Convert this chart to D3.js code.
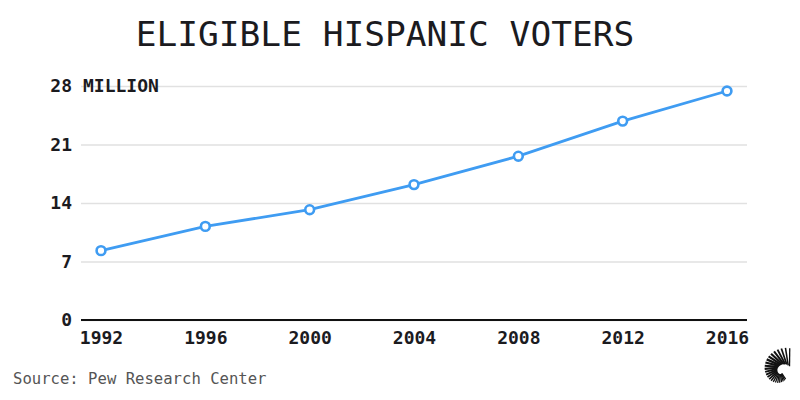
<!DOCTYPE html>
<html>
<head>
<meta charset="utf-8">
<script src="https://cdn.jsdelivr.net/npm/d3@7"></script>
<style>
  html, body { margin: 0; padding: 0; background: #fff; }
  svg { display: block; }
</style>
</head>
<body>
<div class="chart"></div>
<script>
const years = [1992, 1996, 2000, 2004, 2008, 2012, 2016];
const voters = [8.3, 11.2, 13.2, 16.2, 19.6, 23.8, 27.4];
const yTicks = [0, 7, 14, 21, 28];

const width = 800;
const height = 400;
const marginLeft = 81;
const marginRight = 53;
const marginTop = 86;
const marginBottom = 80;
const pad = 20;
const font = "'DejaVu Sans Mono', monospace";
const blue = "#3f9cf2";
const ink = "#1b1b1f";

const svg = d3.select(".chart").append("svg")
  .attr("width", width)
  .attr("height", height)
  .attr("viewBox", [0, 0, width, height]);

const x = d3.scaleLinear()
  .domain(d3.extent(years))
  .range([marginLeft + pad, width - marginRight - pad]);

const y = d3.scaleLinear()
  .domain([0, 28])
  .range([height - marginBottom, marginTop]);

// Title
svg.append("text")
  .attr("x", 385)
  .attr("y", 46)
  .attr("text-anchor", "middle")
  .attr("font-family", font)
  .attr("font-size", 34.5)
  .attr("fill", ink)
  .text("ELIGIBLE HISPANIC VOTERS");

// Gridlines + y labels
const yAxis = d3.axisLeft(y)
  .tickValues(yTicks)
  .tickSize(-(width - marginLeft - marginRight))
  .tickPadding(9)
  .tickFormat(d => d);

const gy = svg.append("g")
  .attr("transform", `translate(${marginLeft},0)`)
  .call(yAxis);
gy.select(".domain").remove();
gy.selectAll(".tick line")
  .attr("stroke", "#e1e1e1")
  .attr("stroke-width", 1.6);
gy.selectAll(".tick text")
  .attr("font-family", font)
  .attr("font-size", 18)
  .attr("font-weight", "bold")
  .attr("fill", ink);

// Unit label next to top tick
svg.append("text")
  .attr("x", marginLeft + 2)
  .attr("y", y(28))
  .attr("dy", "0.32em")
  .attr("font-family", font)
  .attr("font-size", 18)
  .attr("font-weight", "bold")
  .attr("fill", ink)
  .text("MILLION");

// X axis
const xAxis = d3.axisBottom(x)
  .tickValues(years)
  .tickSize(0)
  .tickPadding(11)
  .tickFormat(d3.format("d"));

const gx = svg.append("g")
  .attr("transform", `translate(0,${height - marginBottom})`)
  .call(xAxis);
gx.select(".domain")
  .attr("d", `M${marginLeft},0H${width - marginRight}`)
  .attr("stroke", "#111")
  .attr("stroke-width", 2);
gx.selectAll(".tick text")
  .attr("font-family", font)
  .attr("font-size", 18)
  .attr("font-weight", "bold")
  .attr("fill", ink);

// Line
const points = years.map((yr, i) => ({ year: yr, value: voters[i] }));

const line = d3.line()
  .x(d => x(d.year))
  .y(d => y(d.value));

svg.append("path")
  .datum(points)
  .attr("fill", "none")
  .attr("stroke", blue)
  .attr("stroke-width", 2.8)
  .attr("d", line);

svg.append("g")
  .selectAll("circle")
  .data(points)
  .join("circle")
  .attr("cx", d => x(d.year))
  .attr("cy", d => y(d.value))
  .attr("r", 4.4)
  .attr("fill", "#fff")
  .attr("stroke", blue)
  .attr("stroke-width", 2.6);

// Source
svg.append("text")
  .attr("x", 13)
  .attr("y", 384)
  .attr("font-family", font)
  .attr("font-size", 15.6)
  .attr("fill", "#555")
  .text("Source: Pew Research Center");

// Logo (spiral fan)
const logo = svg.append("g").attr("stroke", "#111");
const cx = 782, cy = 372;
d3.range(24).forEach(i => {
  const t = i / 23;
  const a = (-72 - t * 225) * Math.PI / 180;
  const r0 = 1.5 + 8 * (1 - t);
  const r1 = 25 - 17 * t;
  logo.append("line")
    .attr("x1", cx + r0 * Math.cos(a + 0.6))
    .attr("y1", cy + r0 * Math.sin(a + 0.6))
    .attr("x2", cx + r1 * Math.cos(a))
    .attr("y2", cy + r1 * Math.sin(a))
    .attr("stroke-width", 1.3 + 1.2 * Math.sin(Math.PI * Math.min(1, t * 1.4)) * (1 - t * 0.6));
});
</script>
</body>
</html>
